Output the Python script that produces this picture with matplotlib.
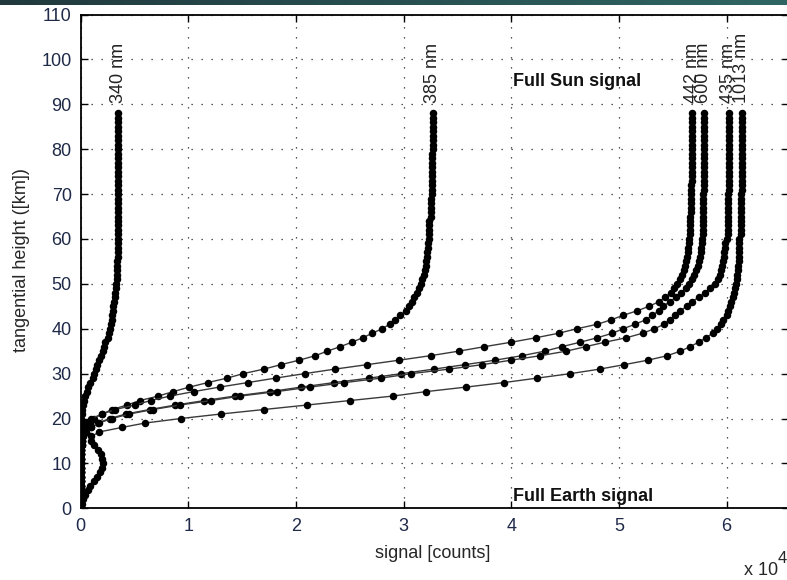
import numpy as np
import matplotlib
matplotlib.use("Agg")
import matplotlib.pyplot as plt
from matplotlib.colors import LinearSegmentedColormap

plt.rcParams["font.family"] = ["Liberation Sans", "DejaVu Sans"]

# tangential heights of the limb scan [km]
heights = np.arange(0, 89)

# limb signal per channel, in units of 1e4 counts (one value per km, 0..88 km)
sig_340 = [
    0.00, 0.00, 0.00, 0.00, 0.00, 0.00, 0.00, 0.00, 0.00, 0.00,
    0.00, 0.00, 0.00, 0.00, 0.00, 0.00, 0.00, 0.00, 0.00, 0.00,
    0.00, 0.01, 0.01, 0.02, 0.03, 0.04, 0.06, 0.07, 0.09, 0.11,
    0.12, 0.14, 0.15, 0.17, 0.19, 0.21, 0.22, 0.23, 0.25, 0.26,
    0.27, 0.28, 0.29, 0.29, 0.30, 0.30, 0.31, 0.32, 0.32, 0.33,
    0.33, 0.34, 0.34, 0.34, 0.34, 0.34, 0.35, 0.35, 0.35, 0.35,
    0.35, 0.35, 0.35, 0.35, 0.35, 0.35, 0.35, 0.35, 0.35, 0.35,
    0.35, 0.35, 0.35, 0.35, 0.35, 0.35, 0.35, 0.35, 0.35, 0.35,
    0.35, 0.35, 0.35, 0.35, 0.35, 0.35, 0.35, 0.35, 0.35,
]
sig_385 = [
    0.00, 0.00, 0.00, 0.00, 0.00, 0.00, 0.00, 0.00, 0.00, 0.00,
    0.00, 0.00, 0.00, 0.00, 0.01, 0.01, 0.01, 0.03, 0.06, 0.09,
    0.12, 0.20, 0.29, 0.43, 0.55, 0.72, 0.86, 1.01, 1.18, 1.36,
    1.51, 1.70, 1.86, 2.03, 2.18, 2.29, 2.41, 2.52, 2.62, 2.71,
    2.80, 2.87, 2.92, 2.97, 3.02, 3.05, 3.08, 3.10, 3.12, 3.14,
    3.16, 3.17, 3.19, 3.20, 3.21, 3.21, 3.22, 3.22, 3.23, 3.23,
    3.24, 3.24, 3.24, 3.24, 3.24, 3.25, 3.25, 3.25, 3.25, 3.25,
    3.26, 3.26, 3.26, 3.26, 3.26, 3.26, 3.26, 3.26, 3.26, 3.26,
    3.27, 3.27, 3.27, 3.27, 3.27, 3.27, 3.27, 3.27, 3.27,
]
sig_442 = [
    0.00, 0.00, 0.00, 0.00, 0.00, 0.00, 0.00, 0.00, 0.00, 0.00,
    0.00, 0.00, 0.00, 0.00, 0.00, 0.01, 0.01, 0.01, 0.02, 0.05,
    0.10, 0.20, 0.32, 0.50, 0.65, 0.83, 1.05, 1.29, 1.55, 1.81,
    2.08, 2.36, 2.66, 2.96, 3.25, 3.51, 3.75, 4.00, 4.23, 4.44,
    4.61, 4.80, 4.93, 5.04, 5.17, 5.28, 5.37, 5.43, 5.48, 5.51,
    5.54, 5.57, 5.59, 5.60, 5.61, 5.62, 5.63, 5.64, 5.64, 5.65,
    5.65, 5.66, 5.66, 5.66, 5.66, 5.66, 5.67, 5.67, 5.67, 5.67,
    5.67, 5.67, 5.67, 5.68, 5.68, 5.68, 5.68, 5.68, 5.68, 5.68,
    5.68, 5.68, 5.68, 5.68, 5.68, 5.68, 5.68, 5.68, 5.68,
]
sig_600 = [
    0.00, 0.00, 0.00, 0.00, 0.00, 0.00, 0.00, 0.00, 0.00, 0.00,
    0.00, 0.00, 0.00, 0.00, 0.01, 0.01, 0.02, 0.05, 0.10, 0.16,
    0.27, 0.42, 0.64, 0.88, 1.15, 1.43, 1.76, 2.05, 2.35, 2.68,
    2.98, 3.28, 3.57, 3.85, 4.10, 4.31, 4.47, 4.64, 4.80, 4.94,
    5.04, 5.15, 5.25, 5.31, 5.37, 5.41, 5.47, 5.53, 5.58, 5.62,
    5.65, 5.68, 5.70, 5.72, 5.73, 5.74, 5.75, 5.76, 5.76, 5.77,
    5.77, 5.78, 5.78, 5.78, 5.78, 5.78, 5.78, 5.78, 5.78, 5.78,
    5.78, 5.79, 5.79, 5.79, 5.79, 5.79, 5.79, 5.79, 5.79, 5.79,
    5.79, 5.79, 5.79, 5.79, 5.79, 5.79, 5.79, 5.79, 5.79,
]
sig_435 = [
    0.00, 0.00, 0.00, 0.00, 0.00, 0.00, 0.00, 0.00, 0.00, 0.00,
    0.00, 0.00, 0.00, 0.00, 0.01, 0.01, 0.02, 0.05, 0.10, 0.17,
    0.29, 0.45, 0.67, 0.92, 1.21, 1.48, 1.82, 2.13, 2.45, 2.79,
    3.07, 3.42, 3.73, 4.00, 4.27, 4.51, 4.69, 4.87, 5.07, 5.22,
    5.33, 5.42, 5.47, 5.52, 5.57, 5.63, 5.68, 5.74, 5.80, 5.85,
    5.89, 5.92, 5.94, 5.95, 5.96, 5.97, 5.98, 5.98, 5.99, 5.99,
    6.00, 6.01, 6.01, 6.01, 6.01, 6.01, 6.01, 6.01, 6.01, 6.01,
    6.01, 6.02, 6.02, 6.02, 6.02, 6.02, 6.02, 6.02, 6.02, 6.02,
    6.02, 6.02, 6.02, 6.02, 6.02, 6.02, 6.02, 6.02, 6.02,
]
sig_1013 = [
    0.00, 0.01, 0.02, 0.04, 0.07, 0.09, 0.12, 0.15, 0.18, 0.20,
    0.21, 0.20, 0.19, 0.16, 0.12, 0.10, 0.10, 0.17, 0.38, 0.60,
    0.93, 1.30, 1.70, 2.10, 2.50, 2.90, 3.21, 3.58, 3.93, 4.24,
    4.55, 4.82, 5.05, 5.27, 5.45, 5.57, 5.66, 5.74, 5.81, 5.87,
    5.91, 5.95, 5.97, 6.00, 6.01, 6.03, 6.04, 6.06, 6.07, 6.08,
    6.09, 6.10, 6.10, 6.11, 6.11, 6.12, 6.12, 6.12, 6.12, 6.12,
    6.12, 6.13, 6.13, 6.13, 6.13, 6.13, 6.13, 6.13, 6.13, 6.13,
    6.13, 6.14, 6.14, 6.14, 6.14, 6.14, 6.14, 6.14, 6.14, 6.14,
    6.14, 6.14, 6.14, 6.14, 6.14, 6.14, 6.14, 6.14, 6.14,
]

wavelengths = ["340", "385", "442", "600", "435", "1013"]
signals = [sig_340, sig_385, sig_442, sig_600, sig_435, sig_1013]

x_ticks = [0, 1, 2, 3, 4, 5, 6]
y_ticks = [0, 10, 20, 30, 40, 50, 60, 70, 80, 90, 100, 110]

W, H = 787, 580
fig = plt.figure(figsize=(W / 100, H / 100), dpi=100)
fig.patch.set_facecolor("white")

# thin header band along the top edge
band = fig.add_axes([0, 1 - 5 / H, 1, 5 / H])
band_cmap = LinearSegmentedColormap.from_list("band", ["#21393d", "#2f6664"])
band.imshow(np.linspace(0, 1, 256)[None, :], aspect="auto", cmap=band_cmap)
band.set_axis_off()

left, right, top, bottom = 80.7, 789.0, 14.5, 508.3
ax = fig.add_axes([left / W, 1 - bottom / H, (right - left) / W, (bottom - top) / H])

for wl, sig in zip(wavelengths, signals):
    ax.plot(sig, heights, "-o", color="#3a3a3a", lw=1.0,
            marker="o", ms=4.4, mfc="black", mec="black", zorder=3)
    ax.text(sig[-1], 90.3, f"{wl} nm", rotation=90, ha="center", va="bottom",
            fontsize=13, color="#222222")

ax.text(4.02, 95, "Full Sun signal", fontsize=13, fontweight="bold",
        ha="left", va="center", color="#111111")
ax.text(4.02, 2.7, "Full Earth signal", fontsize=13, fontweight="bold",
        ha="left", va="center", color="#111111")

ax.set_xlim(0, 6.58)
ax.set_ylim(0, 110)
ax.set_xticks(x_ticks)
ax.set_yticks(y_ticks)
ax.set_xticklabels([str(t) for t in x_ticks])
ax.set_yticklabels([str(t) for t in y_ticks])
ax.tick_params(direction="in", length=5, width=1.0, top=True, right=True,
               labelsize=13, labelcolor="#1e2a48")
ax.tick_params(axis="y", pad=6.5)
ax.tick_params(axis="x", pad=7)
for sp in ax.spines.values():
    sp.set_linewidth(1.3)
ax.set_axisbelow(True)
ax.grid(True, linestyle=(0, (1, 7)), color="#222222", lw=0.9)

fig.text(433 / W, 1 - 553 / H, "signal [counts]", ha="center", va="center",
         fontsize=13, color="#262626")
fig.text(22 / W, 1 - 260 / H, "tangential height ([km])", rotation=90,
         ha="center", va="center", fontsize=13, color="#262626")
fig.text(744 / W, 1 - 575 / H, "x 10", ha="left", va="baseline",
         fontsize=13, color="#262626")
fig.text(778 / W, 1 - 563 / H, "4", ha="left", va="baseline",
         fontsize=12, color="#262626")

fig.savefig("out.png", dpi=100)
